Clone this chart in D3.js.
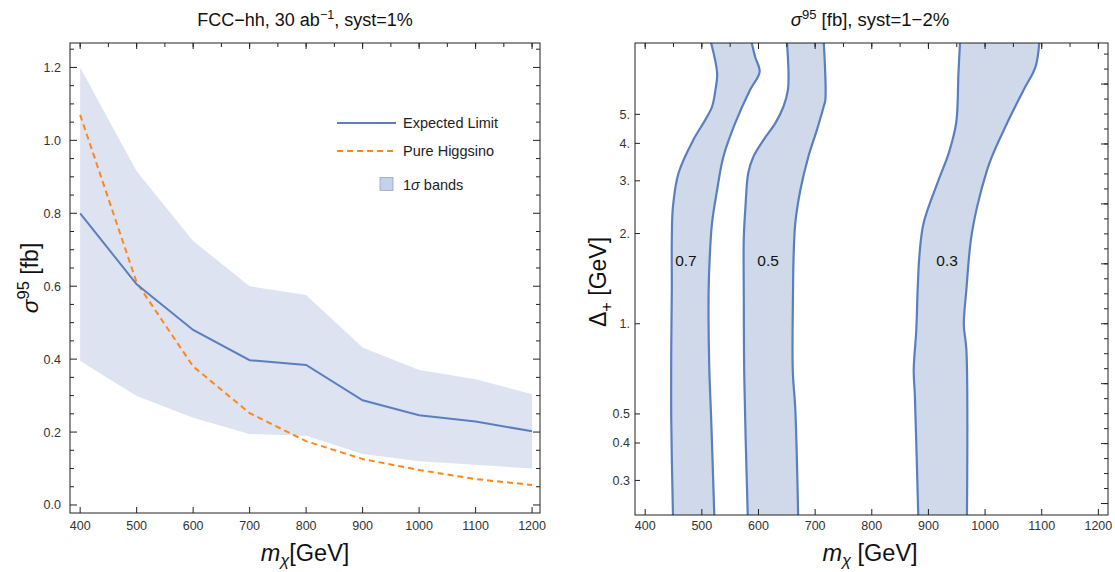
<!DOCTYPE html>
<html>
<head>
<meta charset="utf-8">
<script src="https://cdn.jsdelivr.net/npm/d3@7"></script>
<style>
  html, body { margin: 0; padding: 0; background: #fff; }
  svg { display: block; font-family: "Liberation Sans", Arial, sans-serif; }
</style>
</head>
<body>
<svg id="chart" width="1115" height="572"></svg>
<script>
// ---------------- Data: left panel ----------------
const massPoints    = [400, 500, 600, 700, 800, 900, 1000, 1100, 1200];
const expectedLimit = [0.80, 0.605, 0.48, 0.397, 0.384, 0.287, 0.246, 0.229, 0.202];
const pureHiggsino  = [1.07, 0.61, 0.38, 0.252, 0.175, 0.126, 0.096, 0.071, 0.055];
const bandUpper     = [1.20, 0.915, 0.724, 0.60, 0.576, 0.432, 0.37, 0.345, 0.304];
const bandLower     = [0.395, 0.299, 0.239, 0.195, 0.19, 0.14, 0.12, 0.11, 0.10];
const leftXTicks    = [400, 500, 600, 700, 800, 900, 1000, 1100, 1200];
const leftYTicks    = [0.0, 0.2, 0.4, 0.6, 0.8, 1.0, 1.2];
const legendLabels  = ["Expected Limit", "Pure Higgsino", "1σ bands"];

// ---------------- Data: right panel (contour bands, [mχ, Δ+]) ----------------
const c07Left  = [[515,8.85],[527,6.85],[524,6.03],[518,5.30],[506,4.79],[485,4.11],[459,3.19],[449,2.46],[447,1.91],[447,1.30],[446,0.82],[446,0.479],[449,0.23]];
const c07Right = [[587,8.85],[594,7.78],[602,6.93],[585,6.03],[559,4.68],[538,3.61],[527,2.80],[518,2.17],[514,1.68],[512,1.30],[513,0.73],[516.5,0.479],[522,0.23]];
const c05Left  = [[650,8.85],[653,6.87],[652,6.03],[644,5.30],[630,4.68],[609,4.11],[591,3.61],[582,3.19],[577,2.46],[574,1.91],[574,1.30],[575,0.65],[581,0.23]];
const c05Right = [[715,8.85],[718,5.58],[715,5.30],[703,4.43],[688,3.61],[674,2.80],[665,2.17],[662,1.68],[661,1.30],[660.5,0.70],[665,0.517],[670,0.23]];
const c03Left  = [[956,8.85],[953,6.87],[949,4.68],[936,3.72],[918,3.02],[891.5,2.17],[884,1.68],[881,1.30],[878.6,0.955],[874,0.70],[876,0.58],[882,0.23]];
const c03Right = [[1096,8.85],[1089,7.2],[1068,6.03],[1039,4.68],[1012,3.61],[1002,3.19],[986,2.46],[975,1.91],[967,1.30],[962.5,0.99],[967,0.82],[968,0.23]];
const contourLevels = ["0.7", "0.5", "0.3"];
const contourLabelPos = [[472, 1.62], [617, 1.62], [933, 1.62]];
const rightXTicks = [400, 500, 600, 700, 800, 900, 1000, 1100, 1200];
const rightYTicks = [0.3, 0.4, 0.5, 1, 2, 3, 4, 5];
const rightYTickLabels = ["0.3", "0.4", "0.5", "1.", "2.", "3.", "4.", "5."];

// ---------------- Styles ----------------
const BLUE = "#5b7fbe";
const ORANGE = "#ff8719";
const BAND = "#dde3f0";
const CBAND = "#cfd9e9";
const TICKTXT = "#333";
const FRAME = "#222";

const svg = d3.select("#chart");

function frameTicks(g, scale, orient, values, len, x0, y0) {
  values.forEach(v => {
    const p = scale(v);
    if (orient === "bottom") g.append("line").attr("x1", p).attr("x2", p).attr("y1", y0).attr("y2", y0 - len);
    if (orient === "top") g.append("line").attr("x1", p).attr("x2", p).attr("y1", y0).attr("y2", y0 + len);
    if (orient === "left") g.append("line").attr("y1", p).attr("y2", p).attr("x1", x0).attr("x2", x0 + len);
    if (orient === "right") g.append("line").attr("y1", p).attr("y2", p).attr("x1", x0).attr("x2", x0 - len);
  });
}

// ================= LEFT PANEL =================
{
  const L = 70, R = 540, T = 43, B = 513;
  const x = d3.scaleLinear().domain([382, 1214]).range([L, R]);
  const y = d3.scaleLinear().domain([-0.022, 1.267]).range([B, T]);
  const g = svg.append("g");

  g.append("clipPath").attr("id", "clipL").append("rect").attr("x", L).attr("y", T).attr("width", R - L).attr("height", B - T);
  const plot = g.append("g").attr("clip-path", "url(#clipL)");

  const bandData = massPoints.map((m, i) => ({ m, lo: bandLower[i], hi: bandUpper[i] }));
  plot.append("path").datum(bandData)
    .attr("d", d3.area().x(d => x(d.m)).y0(d => y(d.lo)).y1(d => y(d.hi)))
    .attr("fill", BAND);

  plot.append("path").datum(massPoints.map((m, i) => [m, pureHiggsino[i]]))
    .attr("d", d3.line().x(d => x(d[0])).y(d => y(d[1])))
    .attr("fill", "none").attr("stroke", ORANGE).attr("stroke-width", 2).attr("stroke-dasharray", "6,4");

  plot.append("path").datum(massPoints.map((m, i) => [m, expectedLimit[i]]))
    .attr("d", d3.line().x(d => x(d[0])).y(d => y(d[1])))
    .attr("fill", "none").attr("stroke", BLUE).attr("stroke-width", 2);

  // frame
  g.append("rect").attr("x", L).attr("y", T).attr("width", R - L).attr("height", B - T)
    .attr("fill", "none").attr("stroke", FRAME).attr("stroke-width", 1);

  const tg = g.append("g").attr("stroke", FRAME).attr("stroke-width", 1);
  const minorY = d3.range(0, 1.2501, 0.05).filter(v => Math.abs(Math.round(v / 0.2) * 0.2 - v) > 1e-6);
  frameTicks(tg, x, "bottom", leftXTicks, 6, 0, B);
  frameTicks(tg, x, "top", d3.range(400, 1201, 50), 4, 0, T);
  frameTicks(tg, x, "top", leftXTicks, 6, 0, T);
  frameTicks(tg, y, "left", leftYTicks, 7, L, 0);
  frameTicks(tg, y, "left", minorY, 4, L, 0);
  frameTicks(tg, y, "right", leftYTicks, 7, R, 0);
  frameTicks(tg, y, "right", minorY, 4, R, 0);

  // tick labels
  g.selectAll(".xl").data(leftXTicks).enter().append("text")
    .attr("x", d => x(d)).attr("y", 530).attr("text-anchor", "middle")
    .attr("font-size", 12.5).attr("fill", TICKTXT).text(d => d);
  g.selectAll(".yl").data(leftYTicks).enter().append("text")
    .attr("x", 61).attr("y", d => y(d) + 4.5).attr("text-anchor", "end")
    .attr("font-size", 12.5).attr("fill", TICKTXT).text(d => d.toFixed(1));

  // title
  const t = g.append("text").attr("x", 305).attr("y", 26).attr("text-anchor", "middle").attr("font-size", 18).attr("fill", "#111");
  t.append("tspan").text("FCC\u2212hh, 30 ab");
  t.append("tspan").attr("dy", -7).attr("font-size", 12.5).text("\u22121");
  t.append("tspan").attr("dy", 7).text(", syst=1%");

  // axis labels
  const xl = g.append("text").attr("x", 305).attr("y", 561).attr("text-anchor", "middle").attr("font-size", 23.5).attr("fill", "#111");
  xl.append("tspan").attr("font-style", "italic").text("m");
  xl.append("tspan").attr("font-style", "italic").attr("font-size", 16.5).attr("dy", 5).text("\u03c7");
  xl.append("tspan").attr("dy", -5).text("[GeV]");

  const yl = g.append("text").attr("transform", "translate(38,278) rotate(-90)").attr("text-anchor", "middle").attr("font-size", 23).attr("fill", "#111");
  yl.append("tspan").attr("font-style", "italic").text("\u03c3");
  yl.append("tspan").attr("dy", -9).attr("font-size", 16.5).text("95");
  yl.append("tspan").attr("dy", 9).text(" [fb]");

  // legend
  const lg = g.append("g");
  lg.append("line").attr("x1", 337).attr("x2", 396).attr("y1", 123).attr("y2", 123).attr("stroke", BLUE).attr("stroke-width", 2);
  lg.append("line").attr("x1", 337).attr("x2", 396).attr("y1", 151).attr("y2", 151).attr("stroke", ORANGE).attr("stroke-width", 2).attr("stroke-dasharray", "6,4");
  lg.append("rect").attr("x", 380).attr("y", 177.5).attr("width", 13).attr("height", 13).attr("fill", "#c5d0ea").attr("stroke", "#9aa6c4").attr("stroke-width", 0.8);
  const ly = [128, 156, 189.5];
  legendLabels.forEach((s, i) => {
    const tx = lg.append("text").attr("x", 403).attr("y", ly[i]).attr("font-size", 14.5).attr("fill", "#222");
    if (i === 2) {
      tx.append("tspan").text("1");
      tx.append("tspan").attr("font-style", "italic").text("\u03c3");
      tx.append("tspan").text(" bands");
    } else tx.text(s);
  });
}

// ================= RIGHT PANEL =================
{
  const L = 635, R = 1108, T = 43, B = 515;
  const x = d3.scaleLinear().domain([382, 1217]).range([L, R]);
  const y = d3.scaleLog().domain([0.23, 8.65]).range([B, T]);
  const g = svg.append("g");

  g.append("clipPath").attr("id", "clipR").append("rect").attr("x", L).attr("y", T).attr("width", R - L).attr("height", B - T);
  const plot = g.append("g").attr("clip-path", "url(#clipR)");

  const line = d3.line().x(d => x(d[0])).y(d => y(d[1])).curve(d3.curveCatmullRom.alpha(0.5));
  const bands = [[c07Left, c07Right], [c05Left, c05Right], [c03Left, c03Right]];
  bands.forEach(([lft, rgt]) => {
    plot.append("path").attr("d", line(lft) + "L" + line(rgt.slice().reverse()).slice(1) + "Z")
      .attr("fill", CBAND).attr("stroke", "none");
    plot.append("path").attr("d", line(lft)).attr("fill", "none").attr("stroke", BLUE).attr("stroke-width", 2.2);
    plot.append("path").attr("d", line(rgt)).attr("fill", "none").attr("stroke", BLUE).attr("stroke-width", 2.2);
  });

  contourLevels.forEach((s, i) => {
    plot.append("text").attr("x", x(contourLabelPos[i][0])).attr("y", y(contourLabelPos[i][1]) + 5.5)
      .attr("text-anchor", "middle").attr("font-size", 15.5).attr("fill", "#111").text(s);
  });

  g.append("rect").attr("x", L).attr("y", T).attr("width", R - L).attr("height", B - T)
    .attr("fill", "none").attr("stroke", FRAME).attr("stroke-width", 1);

  const tg = g.append("g").attr("stroke", FRAME).attr("stroke-width", 1);
  frameTicks(tg, x, "bottom", rightXTicks, 6, 0, B);
  frameTicks(tg, x, "top", d3.range(400, 1201, 50), 4, 0, T);
  frameTicks(tg, x, "top", rightXTicks, 6, 0, T);
  frameTicks(tg, y, "left", rightYTicks, 5, L, 0);
  const rMinor = d3.range(-0.6, 0.9001, 0.05).map(v => Math.pow(10, v));
  const rMajor = d3.range(-0.6, 0.9001, 0.2).map(v => Math.pow(10, v));
  frameTicks(tg, y, "right", rMinor, 4, R, 0);
  frameTicks(tg, y, "right", rMajor, 7, R, 0);

  g.selectAll(".xl").data(rightXTicks).enter().append("text")
    .attr("x", d => x(d)).attr("y", 530).attr("text-anchor", "middle")
    .attr("font-size", 12.5).attr("fill", TICKTXT).text(d => d);
  g.selectAll(".yl").data(rightYTicks).enter().append("text")
    .attr("x", 630).attr("y", d => y(d) + 4.5).attr("text-anchor", "end")
    .attr("font-size", 12.5).attr("fill", TICKTXT).text((d, i) => rightYTickLabels[i]);

  const t = g.append("text").attr("x", 870).attr("y", 26).attr("text-anchor", "middle").attr("font-size", 18.5).attr("fill", "#111");
  t.append("tspan").attr("font-style", "italic").text("\u03c3");
  t.append("tspan").attr("dy", -7).attr("font-size", 13).text("95");
  t.append("tspan").attr("dy", 7).text(" [fb], syst=1\u22122%");

  const xl = g.append("text").attr("x", 870).attr("y", 561).attr("text-anchor", "middle").attr("font-size", 23.5).attr("fill", "#111");
  xl.append("tspan").attr("font-style", "italic").text("m");
  xl.append("tspan").attr("font-style", "italic").attr("font-size", 16.5).attr("dy", 5).text("\u03c7");
  xl.append("tspan").attr("dy", -5).text(" [GeV]");

  const yl = g.append("text").attr("transform", "translate(606,282) rotate(-90)").attr("text-anchor", "middle").attr("font-size", 23).attr("fill", "#111");
  yl.append("tspan").text("\u0394");
  yl.append("tspan").attr("dy", 6).attr("font-size", 16.5).text("+");
  yl.append("tspan").attr("dy", -6).text(" [GeV]");
}
</script>
</body>
</html>
